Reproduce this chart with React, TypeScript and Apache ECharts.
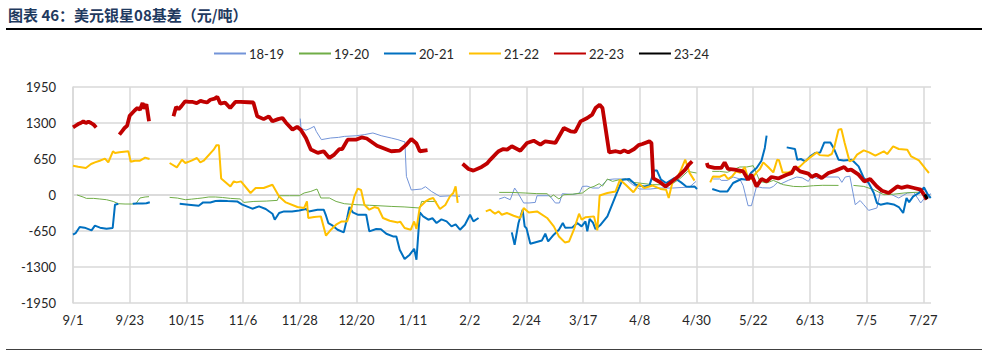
import React, { useEffect, useRef } from "react";
import * as echarts from "echarts";

type P = [number, number] | null;

// x = days since 9/1, y = basis (元/吨)
const tickLabels = ["9/1", "9/23", "10/15", "11/6", "11/28", "12/20", "1/11", "2/2", "2/24", "3/17", "4/8", "4/30", "5/22", "6/13", "7/5", "7/27"];
const seriesNames = ["18-19", "19-20", "20-21", "21-22", "22-23", "23-24"];

const s1819: P[] = [
  [88.2, 1380], [88.5, 1200], [90.4, 1170], [92, 1200], [93.6, 1239], [94.4, 1150], [96.4, 1000], [100, 1029], [103, 1040], [105.3, 1058], [109.9, 1070], [113, 1089], [116.4, 1120], [119.6, 1071], [123.5, 1029], [126.1, 999], [128.1, 968], [128.8, 960], [129.4, 336], [131.3, 90], [135.2, 108], [136.8, 150], [139.1, 65], [142.4, -25], [146.9, -13], [150.2, -25],
  null,
  [165.4, -72], [167.5, -40], [169.7, -85], [171.4, 126], [172.5, 50], [174.9, -144], [177, -144], [179.4, -134], [180.1, -13], [185, -13], [187.2, -144], [188.8, -144], [189.9, 23], [194, 10], [196.6, 36], [197.7, 155], [199.5, 160], [201.6, 126], [204, 126], [205.5, 186], [207.4, 276], [210, 289], [214.5, 289], [217.2, 186], [218.5, 155], [219.8, 108], [224, 108], [227.6, 126], [232.8, 126], [236, 135], [239.3, 144], [241.8, 246],
  null,
  [248.4, 289], [251, 289], [251.6, 264], [254, 264], [256.2, 325], [258.8, 289], [260.1, 168], [262, -193], [263.3, -193], [265.3, 155], [267.5, 130], [270.5, 126], [271.8, 155], [273.5, 230], [274.7, 200], [277.6, 264], [280.9, 325], [283, 310], [285.4, 246], [286.7, 349], [288.7, 300], [291.9, 325], [297.1, 325], [298.4, 228], [299.7, 325], [301.5, 340], [303.6, -175], [305.5, -100], [306.9, -175], [308.8, -278], [312, -235], [313.4, 65], [316, 45], [320.5, -54], [323.8, 36], [326.4, 45], [329, -144], [331, -25], [333, 23],
];

const s1920: P[] = [
  [1.6, 0], [3.9, -36], [5.2, -61], [8, -61], [10.4, -72], [13, -85], [15.6, -116], [17.6, -157], [20.2, -163], [22.8, -163], [24.5, -150], [26, -54], [28, -36], [29.5, -30],
  null,
  [37.5, -43], [40.5, -55], [43.6, -85], [46, -75], [48.2, -64], [50.1, -54], [52.7, -36], [55.3, -36], [58, -45], [61.1, -61], [65, -72], [66.3, -134], [70.2, -116], [75, -110], [79.3, -97], [80, -13], [84, -13], [87.8, -13], [89.7, 36], [92.3, 65], [94.7, 108], [96.2, -54], [99.5, -54], [102.1, -116], [105.3, -157], [109.9, -175], [115, -185], [123.5, -206], [128.5, -215], [134.6, -235], [135.3, -116], [141.1, -116],
  null,
  [165.4, 47], [170, 47], [175.5, 36], [180, 25], [184, 23], [185.3, -36], [186.5, 0], [188.6, -72], [190.5, 5], [194, 15], [197.7, 36], [200.3, 126], [202.2, 155], [204.2, 204], [205.5, 160], [207.4, 289], [209.4, 246], [212, 276], [214.5, 289], [217.2, 228], [220, 215], [225, 186], [230, 186], [232.5, 200], [235.4, 289], [238.6, 426], [242, 397],
  null,
  [248.1, 426], [251, 426], [254, 410], [256.2, 457], [258.8, 506], [261.5, 506], [264, 529], [266.6, 246], [269.2, 217], [271.8, 264], [275.7, 186], [279.6, 155], [283, 150], [287.4, 168], [291, 175], [297.1, 173],
  null,
  [302.9, 173], [306.9, 155], [310.8, 96], [314.7, 5], [318.5, 15], [322.5, 36], [326.4, 47], [329, 50],
];

const s2021: P[] = [
  [0, -717], [1, -690], [2.6, -578], [4.5, -590], [7.2, -639], [8.5, -554], [10.5, -590], [13, -609], [15.4, -596], [16.3, -175], [17.6, -157],
  null,
  [23.2, -160], [25, -155], [27, -155], [28.5, -150], [29.8, -130],
  null,
  [41.4, -160], [44.9, -175], [48.8, -193], [50.5, -134], [53.3, -134], [55.3, -110], [57.2, -103], [60, -110], [63.7, -116], [65.7, -175], [69.6, -247], [72.2, -206], [74.8, -253], [77.4, -338], [78.3, -446], [80, -325], [81.9, -296], [85, -296], [87.8, -278], [90.4, -253], [91.5, -296], [94.9, -265], [97.3, -265], [98.2, -374], [99.1, -506], [100.8, -554], [102.7, -627], [105.1, -675], [106.4, -415], [107.3, -217], [108.6, -314], [110.5, -356], [113.8, -356], [115, -657], [117.7, -614], [119.5, -620], [121.6, -699], [124.2, -748], [125.5, -748], [126.8, -988], [128.7, -1156], [130.7, -1078], [132.4, -970], [133.3, -1168], [134.6, -314], [135.9, -386], [137.9, -446], [139.5, -420], [141.1, -506], [143, -440], [145, -477], [146.9, -567], [148.5, -530], [150.2, -627], [152.1, -536], [154.1, -356], [155.4, -477], [157.4, -415],
  null,
  [170.3, -675], [171.4, -898], [172.9, -506], [174.5, -265], [175.3, -567], [176, -600], [177.5, -880], [182, -820], [183.3, -699], [184.4, -838], [186.6, -717], [188.6, -627], [190.1, -506], [191, -590], [193.8, -585], [195.7, -506], [197.4, -567], [198.9, -477], [199.6, -657], [200.5, -433], [201.8, -500], [202.8, -614], [204.8, -536], [207.4, -386], [211.3, 65], [213.3, 276], [215.9, 289], [218.4, 186], [221.7, 155], [223.7, 170], [225.6, 444], [226.6, 444], [228.2, 276], [230.2, 217], [233.4, 307], [236, 228], [238, 155], [239.5, 150], [241.2, 155], [242.2, 108],
  null,
  [248.1, 108], [251, 65], [254, 65], [256.2, 217], [259.4, 289], [261.4, 276], [263.3, 408], [265.3, 488], [267.2, 619], [268.5, 849], [269.2, 1071],
  null,
  [277, 860], [280.2, 831], [281.1, 637], [282.5, 650], [284.2, 607], [286.1, 697], [288, 758], [290, 769], [291.6, 950], [293.9, 950], [295.2, 849], [297.1, 637], [299.1, 625], [302.3, 637], [304.9, 517], [306.9, 307], [308.8, 217], [310.8, 36], [312, -144], [313.4, -175], [316, -150], [318.5, -170], [320.5, -217], [322.2, -325], [323.5, -54], [324.5, -130], [326.1, -25], [328.3, 36], [330.3, 137], [331.8, 5], [332.9, -54],
];

const s2122: P[] = [
  [0, 529], [2, 510], [5, 488], [7, 560], [8.5, 589], [10.4, 619], [12.4, 656], [13.7, 589], [15.5, 788], [16.3, 758], [18, 770], [21.5, 788], [22.4, 600], [24, 619], [26, 619], [28, 675], [29.7, 650],
  null,
  [37.5, 578], [40.3, 499], [42.3, 637], [43.6, 578], [46, 620], [48.1, 668], [49.4, 589], [50.7, 619], [54.6, 818], [55.7, 900], [56.6, 900], [57.5, 300], [61.1, 155], [62.4, 246], [63.5, 228], [65.2, 246], [68.9, 36], [70.9, 126], [74, 126], [77.4, 186], [80, -25], [82.6, -134], [87.1, -217], [89.7, -235], [90.8, -116], [91.3, -415], [93.6, -397], [96.2, -386], [98.2, -735], [100.1, -627], [102.1, -536], [104.3, -477], [106.4, -477], [107.9, -265], [109.2, -25], [110.5, 114], [111.8, 90], [113.1, -175], [115, -265], [117, -217], [118.5, -240], [120.3, -415], [122.9, -464], [126.1, -495], [127, -480], [128.7, -596], [131.1, -627], [132.4, -477], [133.3, -614], [134.6, -217], [136.8, -116], [138.5, -72], [139.8, -54], [142.4, -253], [144.5, -180], [146.3, -25], [147.6, 36], [148.5, 155], [149.3, -144],
  null,
  [160.2, -296], [161.9, -265], [162.7, -300], [163.8, -338], [165.2, -296], [166.4, -356], [168.4, -325], [171, -374], [173.6, -415], [174.9, -235], [176.9, -314], [180.1, -296], [184, -415], [186.6, -567], [188.6, -748], [190.9, -856], [192.5, -840], [194.4, -627], [196.4, -338], [197.4, -446], [199, -400], [202.2, -386], [203.5, -639], [204.4, -10], [207.4, 36], [210.6, 65], [212.3, 276], [214.5, 186], [217.5, 50], [219.8, 200], [221.7, 126], [225, 170], [228, 110], [230.2, 96], [231.2, -54], [232.8, 260], [234.5, 300], [236.2, 480], [237.6, 640], [239.3, 400], [241.2, 260],
  null,
  [247.3, 228], [248.4, 336], [251, 330], [252.9, 367], [254.2, 289], [255.7, 330], [257.4, 426], [259, 400], [260.7, 506], [262, 307], [263.3, 290], [265.3, 408], [266.6, 470], [267.9, 589], [269.8, 506], [271.8, 408], [273.3, 637], [274, 630], [275.4, 408], [277.6, 408], [279.5, 445], [282.2, 517], [284.2, 607], [286.1, 679], [288.7, 769], [289.8, 720], [293.2, 710], [294.5, 740], [295.4, 849], [297.1, 1180], [298.2, 1190], [299.5, 939], [301.4, 607], [303, 640], [304.3, 728], [306.9, 806], [309, 770], [311.4, 710], [314.7, 788], [316, 740], [318.3, 878], [320.5, 831], [323.8, 818], [325.3, 697], [328.3, 625], [330.9, 470], [332.2, 397],
];

const s2223: P[] = [
  [0, 1220], [1, 1250], [2, 1280], [3, 1300], [4, 1330], [5, 1300], [6, 1325], [7, 1300], [8, 1270], [9, 1220],
  null,
  [18, 1090], [19, 1150], [20, 1210], [21, 1250], [22, 1430], [23, 1480], [24, 1530], [25, 1570], [26, 1540], [27, 1660], [27.7, 1560], [28.5, 1640], [29.5, 1330],
  null,
  [39, 1420], [40, 1590], [41, 1550], [42, 1600], [43.5, 1690], [45, 1680], [46.5, 1680], [48, 1660], [49.5, 1700], [51, 1680], [52, 1670], [53.3, 1720], [55, 1740], [56, 1775], [57.2, 1650], [59, 1670], [61, 1570], [63, 1680], [65, 1680], [68, 1675], [70, 1670], [71.5, 1420], [74, 1370], [76, 1420], [77.4, 1330], [79.6, 1370], [81.3, 1390], [82.6, 1310], [85.2, 1180], [87, 1230], [88.4, 1180], [90.4, 1030], [92.3, 820], [95, 760], [97.3, 790], [99.5, 670], [101.4, 730], [103.4, 830], [104.5, 830], [106.6, 1000], [110, 1000], [112, 1040], [114, 1020], [118, 890], [123.5, 790], [126.8, 800], [129.4, 910], [131.3, 1010], [133.3, 930], [134.6, 790], [137.6, 810],
  null,
  [151.2, 565], [153.5, 470], [155.4, 440], [158.6, 506], [160.6, 565], [162, 640], [164.5, 760], [165.2, 790], [167, 830], [168.5, 820], [170.3, 880], [173.6, 800], [176.2, 940], [178.8, 980], [181.4, 910], [183.3, 970], [187.2, 940], [190.5, 1210], [193.1, 1150], [194.9, 1140], [197, 1330], [199.6, 1390], [201.5, 1450], [202.8, 1570], [204.4, 1630], [205.5, 1570], [208.1, 770], [210.7, 790], [212.5, 770], [213.9, 806], [215.5, 770], [217.8, 830], [219.5, 900], [221, 920], [223.7, 968], [224.5, 940], [225.2, 300], [227.6, 240], [230, 155], [232.5, 246], [235, 340], [237.6, 457], [239, 550], [240.3, 607],
  null,
  [246, 578], [246.4, 517], [249, 488], [251.6, 488], [252.9, 589], [254.2, 470], [256.8, 457], [260.1, 426], [262, 276], [263.3, 367], [265.3, 155], [267.2, 289], [269.2, 246], [271.1, 325], [273.7, 300], [277, 367], [279, 400], [280.2, 506], [282.2, 426], [285.4, 385], [286.7, 325], [288.4, 367], [290.6, 307], [293.2, 397], [295.8, 439], [299.3, 506], [300.6, 444], [302, 457], [304.9, 367], [307.1, 246], [309.4, 289], [312, 155], [314, 78], [316.6, 36], [319.9, 155], [321.5, 130], [323.8, 155], [326.4, 126], [329, 96], [330.3, 5], [331.3, -85],
];

const s2324: P[] = [[330.6, 10], [331.6, -70]];

const colors = ["#7394d8", "#70ad47", "#0070c0", "#ffc000", "#c00000", "#000000"];
const widths = [1, 1, 2, 2, 3.8, 3];
const allSeries = [s1819, s1920, s2021, s2122, s2223, s2324];

function toData(arr: P[]) {
  return arr.map((p, i) => {
    if (p) return p;
    const prev = arr[i - 1] as [number, number];
    return [prev[0] + 0.1, "-"];
  });
}

const FONT = "Lato, 'Noto Sans', sans-serif";

export default function App() {
  const ref = useRef<HTMLDivElement>(null);
  useEffect(() => {
    if (!ref.current) return;
    const chart = echarts.init(ref.current, undefined, { renderer: "svg" });
    chart.setOption({
      animation: false,
      backgroundColor: "#ffffff",
      textStyle: { fontFamily: FONT },
      graphic: [
        {
          type: "text",
          left: 8,
          top: 7,
          style: {
            text: "图表 46：美元银星08基差（元/吨）",
            font: "bold 15px 'Noto Sans CJK SC', sans-serif",
            fill: "#1f3a5f",
          },
        },
        { type: "rect", shape: { x: 6, y: 28, width: 976, height: 2 }, style: { fill: "#000" } },
        { type: "rect", shape: { x: 6, y: 349, width: 976, height: 1 }, style: { fill: "#404040" } },
      ],
      legend: {
        left: 213,
        top: 47,
        padding: 0,
        itemWidth: 32,
        itemHeight: 14,
        itemGap: 14,
        itemStyle: { opacity: 0 },
        textStyle: { fontFamily: FONT, fontSize: 13, color: "#262626", padding: [0, 0, 0, -2] },
        data: seriesNames,
      },
      grid: { left: 73, right: 51, top: 87, bottom: 53 },
      xAxis: {
        type: "value",
        min: 0,
        max: 333,
        interval: 22,
        axisLine: { show: true, lineStyle: { color: "#d9d9d9", width: 1.5 } },
        axisTick: { show: false },
        splitLine: { show: true, showMaxLine: false, lineStyle: { color: "#d9d9d9", width: 1.5 } },
        axisLabel: {
          showMaxLabel: false,
          margin: 10,
          fontFamily: FONT,
          fontSize: 13,
          color: "#262626",
          formatter: (v: number) => {
            const i = Math.round(v / 22);
            return Math.abs(v - i * 22) < 0.01 && tickLabels[i] ? tickLabels[i] : "";
          },
        },
      },
      yAxis: {
        type: "value",
        min: -1950,
        max: 1950,
        interval: 650,
        axisLine: { show: true, lineStyle: { color: "#d9d9d9", width: 1.5 } },
        axisTick: { show: false },
        splitLine: { show: true, lineStyle: { color: "#d9d9d9", width: 1.5 } },
        axisLabel: {
          margin: 17,
          fontFamily: FONT,
          fontSize: 13,
          color: "#262626",
          formatter: (v: number) => String(v),
        },
      },
      series: allSeries.map((s, i) => ({
        name: seriesNames[i],
        type: "line",
        data: toData(s),
        symbol: "none",
        connectNulls: false,
        lineStyle: { color: colors[i], width: widths[i] },
        itemStyle: { color: colors[i] },
        z: 2 + i,
      })),
    });
    return () => chart.dispose();
  }, []);
  return <div ref={ref} style={{ position: "fixed", left: 0, top: 0, width: 982, height: 356 }} />;
}
